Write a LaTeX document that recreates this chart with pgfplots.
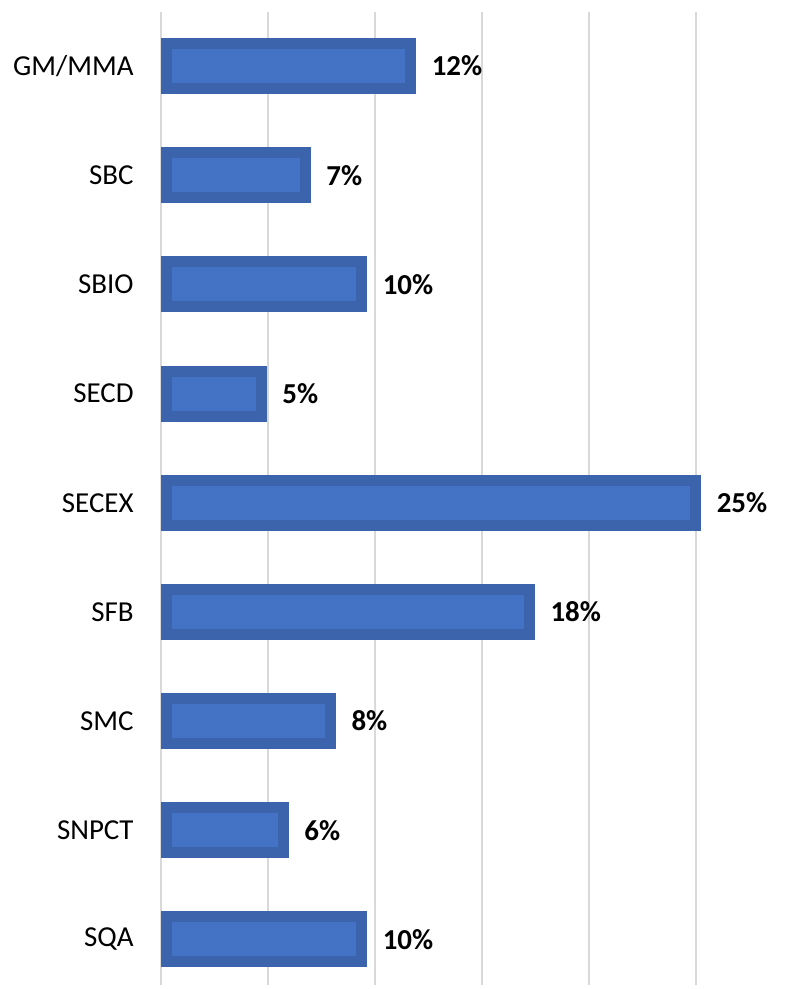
\documentclass[border=0pt]{standalone}
\usepackage{pgfplots}
\pgfplotsset{compat=1.18}
\usepackage{pgfplotstable}
\usepackage{fontspec}
\setmainfont{Carlito}
\definecolor{barfill}{RGB}{68,114,196}
\definecolor{barline}{RGB}{59,100,173}
\definecolor{gridc}{RGB}{217,217,217}
\pgfplotstableread{
pos v lab
8 11.93 12\%
7 7.01 7\%
6 9.64 10\%
5 4.95 5\%
4 25.25 25\%
3 17.48 18\%
2 8.18 8\%
1 5.98 6\%
0 9.64 10\%
}\datatab
\pgfplotsset{common/.style={
  scale only axis,
  width=481.5pt, height=729.75pt,
  xmin=0, xmax=30,
  ymin=-0.417, ymax=8.495,
  bar width=33.75pt,
  axis line style={draw=none},
  major tick length=0pt,
  clip=false,
}}
\begin{document}
\begin{tikzpicture}[x=1pt,y=1pt]
\begin{axis}[common,
  xbar stacked,
  xtick={0,5,10,15,20,25},
  xticklabels={},
  xmajorgrids, major grid style={gridc, line width=1.2pt},
  ytick={0,...,8},
  yticklabels={SQA,SNPCT,SMC,SFB,SECEX,SECD,SBIO,SBC,GM/MMA},
  yticklabel style={font=\fontsize{21.7}{26}\selectfont, xshift=-17pt},
]
\addplot[draw=none, fill=none] table[x expr=0.257, y=pos] {\datatab};
\addplot[draw=barline, line width=8.25pt, fill=barfill]
  table[x expr=\thisrow{v}-0.514, y=pos] {\datatab};
\end{axis}
\begin{axis}[common,
  xbar, xtick=\empty, ytick=\empty,
]
\addplot[draw=none, fill=none,
  nodes near coords, point meta=explicit symbolic,
  every node near coord/.append style={font=\fontsize{21.7}{26}\selectfont\bfseries, anchor=west, inner sep=0pt, xshift=11.4pt}]
  table[x=v, y=pos, meta=lab] {\datatab};
\end{axis}
\pgfresetboundingbox
\path[use as bounding box] (-120.75pt,-3pt) rectangle (474.75pt,738.75pt);
\end{tikzpicture}
\end{document}
